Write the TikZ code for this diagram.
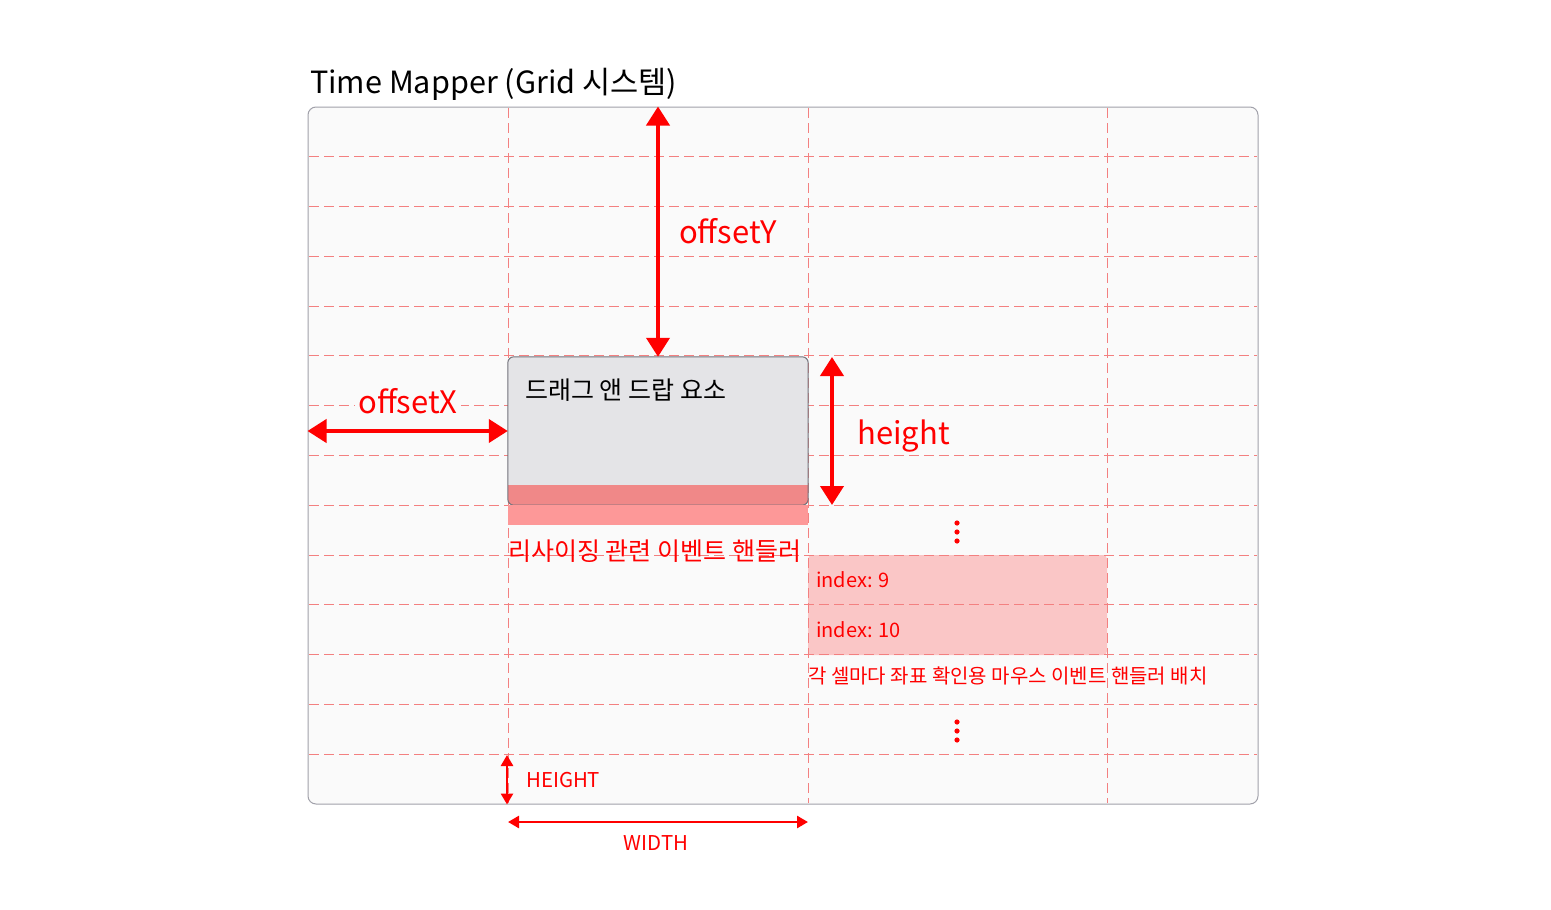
\documentclass[tikz,border=0pt]{standalone}
\usepackage{fontspec}
\setmainfont{Noto Sans CJK KR}
\usetikzlibrary{arrows.meta}

\definecolor{framebg}{RGB}{250,250,250}
\definecolor{frameline}{RGB}{161,161,170}
\definecolor{gridred}{RGB}{243,128,128}
\definecolor{dragfill}{RGB}{228,228,231}
\definecolor{dragline}{RGB}{113,113,122}
\definecolor{barred}{RGB}{240,136,136}
\definecolor{resizered}{RGB}{253,152,152}
\definecolor{cellpink}{RGB}{250,198,198}

\begin{document}
\begin{tikzpicture}[x=1pt, y=-1pt,
    gridline/.style={gridred, line width=1pt, dash pattern=on 10pt off 5pt},
    bigarrow/.style={red, line width=4pt, {Triangle[length=19pt,width=23pt]}-{Triangle[length=19pt,width=23pt]}},
    smallarrow/.style={red, line width=2.6pt, {Triangle[length=11pt,width=12pt]}-{Triangle[length=11pt,width=12pt]}},
    biglabel/.style={text=red, inner sep=0pt, font=\fontsize{31}{36}\selectfont},
    redlabel/.style={text=red, inner sep=0pt, font=\fontsize{25}{30}\selectfont},
    smalllabel/.style={text=red, inner sep=0pt, font=\fontsize{20}{24}\selectfont}
]

    \useasboundingbox[fill=white] (0,0) rectangle (1551,910);

    \node[anchor=base west, inner sep=0pt, font=\fontsize{30.6}{36}\selectfont] (title) at (310,93) {Time Mapper (Grid 시스템)};

    \node[draw=frameline, fill=framebg, line width=1pt, rounded corners=8pt,
          minimum width=950pt, minimum height=697pt, inner sep=0pt] (frame) at (783,455.5) {};

    \node[fill=cellpink, rounded corners=4pt, minimum width=299pt, minimum height=100pt, inner sep=0pt] (cells) at (957.5,605) {};

    % grid
    \foreach \k in {1,...,13} {
        \draw[gridline] (309, 107+49.79*\k) -- (1257, 107+49.79*\k);
    }
    \foreach \x in {508, 808, 1107} {
        \draw[gridline] (\x, 108) -- (\x, 803);
    }

    % drag element
    \node[fill=dragfill, rounded corners=6pt, minimum width=300pt, minimum height=148pt, inner sep=0pt] (drag) at (658,431) {};
    \begin{scope}
        \clip[rounded corners=6pt] (drag.north west) rectangle (drag.south east);
        \fill[barred] ([yshift=20pt]drag.south west) rectangle (drag.south east);
    \end{scope}
    \draw[dragline, line width=1pt, rounded corners=6pt] (drag.north west) rectangle (drag.south east);
    \fill[resizered] (drag.south west) rectangle ([yshift=-20pt]drag.south east);

    \node[anchor=base west, inner sep=0pt, font=\fontsize{25}{30}\selectfont] (dragtext) at (525,399) {드래그 앤 드랍 요소};

    % offsets
    \draw[bigarrow] (drag.north |- frame.north) -- (drag.north);
    \node[biglabel, anchor=base west] (offy) at (679,243) {offsetY};

    \draw[bigarrow] (frame.west |- drag.west) -- (drag.west);
    \node[biglabel, anchor=base, fill=framebg, inner sep=3pt] (offx) at (408,413) {offsetX};

    \coordinate (htop) at (832,357);
    \coordinate (hbot) at (832,505);
    \draw[bigarrow] (htop) -- (hbot);
    \node[biglabel, anchor=base west] (hlabel) at (857,444) {height};

    \node[redlabel, anchor=base west] (resize) at (508,560) {리사이징 관련 이벤트 핸들러};

    % cells
    \foreach \y in {523, 532, 541} {
        \fill[red] (957,\y) circle (2.6);
    }
    \node[smalllabel, anchor=base west] (idx9) at (816,587) {index: 9};
    \node[smalllabel, anchor=base west] (idx10) at (816,637) {index: 10};
    \node[smalllabel, anchor=base west] (cellnote) at (808,683) {각 셀마다 좌표 확인용 마우스 이벤트 핸들러 배치};
    \foreach \y in {722, 731, 740} {
        \fill[red] (957,\y) circle (2.6);
    }

    % unit sizes
    \coordinate (hcell) at (507,755);
    \draw[smallarrow] (hcell) -- (hcell |- frame.south);
    \node[smalllabel, anchor=base west, font=\fontsize{20.4}{24}\selectfont] (hunit) at (526,787) {HEIGHT};

    \coordinate (wleft) at (508,822);
    \coordinate (wright) at (808,822);
    \draw[smallarrow] (wleft) -- (wright);
    \node[smalllabel, anchor=base, font=\fontsize{20.4}{24}\selectfont] (wunit) at (656,850) {WIDTH};

\end{tikzpicture}
\end{document}
